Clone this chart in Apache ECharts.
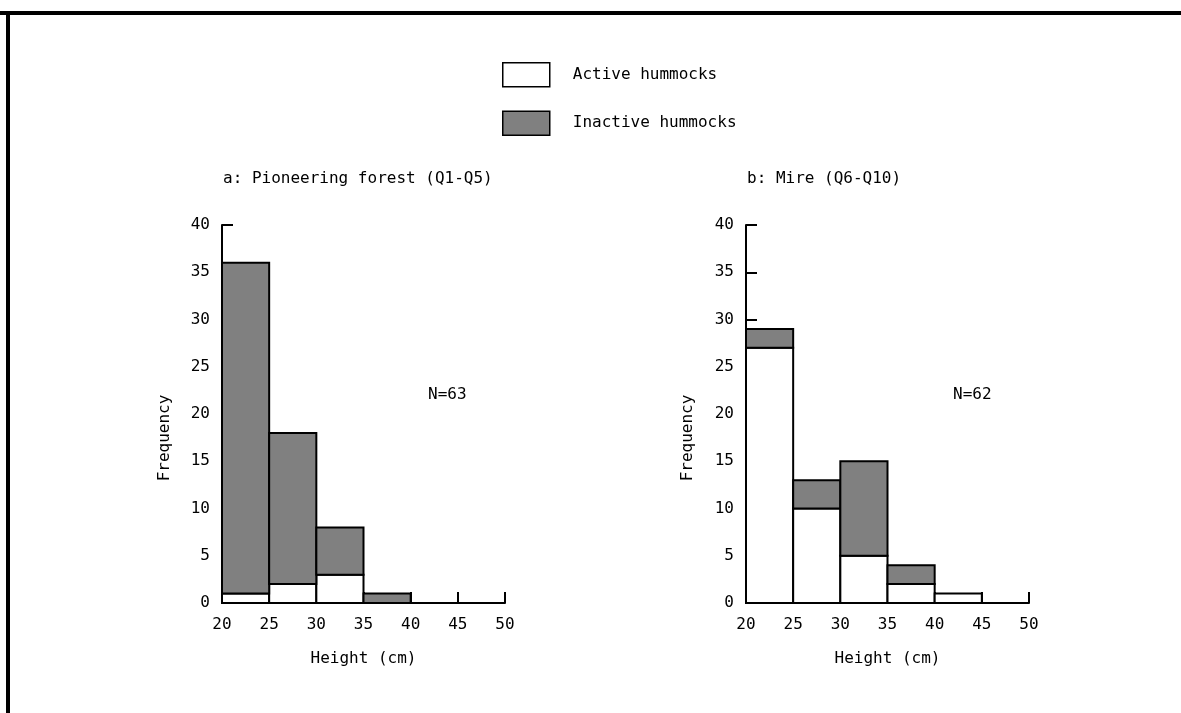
<!DOCTYPE html>
<html>
<head>
<meta charset="utf-8">
<script src="https://cdn.jsdelivr.net/npm/echarts@6/dist/echarts.min.js"></script>
<style>
    html, body { margin: 0; padding: 0; background: #fff; }
    #chart { width: 1181px; height: 713px; }
</style>
</head>
<body>
<div id="chart"></div>
<script>
// bin starts (cm), each bin is 5 cm wide
const binStarts = [20, 25, 30, 35, 40, 45];
const binWidth = 5;
// a: Pioneering forest (Q1-Q5)
const activeA = [1, 2, 3, 0, 0, 0];
const inactiveA = [35, 16, 5, 1, 0, 0];
// b: Mire (Q6-Q10)
const activeB = [27, 10, 5, 2, 1, 0];
const inactiveB = [2, 3, 10, 2, 0, 0];
const xTicks = [20, 50, 5];   // min, max, interval
const yTicks = [0, 40, 5];

const FONT = '"DejaVu Sans Mono", "Liberation Mono", monospace';
const GRAY = '#808080';

// build [x0, x1, y0, y1] boxes for a stacked histogram
function boxes(values, base) {
    const out = [];
    binStarts.forEach((x0, i) => {
        const b = base ? base[i] : 0;
        if (values[i] > 0) {
            out.push([x0, x0 + binWidth, b, b + values[i]]);
        }
    });
    return out;
}

function renderBox(fill) {
    return function (params, api) {
        const p0 = api.coord([api.value(0), api.value(2)]);
        const p1 = api.coord([api.value(1), api.value(3)]);
        return {
            type: 'rect',
            shape: { x: p0[0], y: p1[1], width: p1[0] - p0[0], height: p0[1] - p1[1] },
            style: { fill: fill, stroke: '#000', lineWidth: 2 }
        };
    };
}

function xAxisOf(idx) {
    return {
        type: 'value',
        gridIndex: idx,
        min: xTicks[0],
        max: xTicks[1],
        interval: xTicks[2],
        name: 'Height (cm)',
        nameLocation: 'middle',
        nameGap: 48,
        nameTextStyle: { color: '#000', fontSize: 16, fontFamily: FONT },
        splitLine: { show: false },
        axisLine: { lineStyle: { color: '#000', width: 2 } },
        axisTick: { inside: true, length: 11, lineStyle: { color: '#000', width: 2 } },
        axisLabel: { color: '#000', fontSize: 16, fontFamily: FONT, margin: 14 }
    };
}

function yAxisOf(idx) {
    return {
        type: 'value',
        gridIndex: idx,
        min: yTicks[0],
        max: yTicks[1],
        interval: yTicks[2],
        splitLine: { show: false },
        axisLine: { show: true, lineStyle: { color: '#000', width: 2 } },
        axisTick: { show: true, inside: true, length: 11, lineStyle: { color: '#000', width: 2 } },
        axisLabel: { color: '#000', fontSize: 16, fontFamily: FONT, margin: 12 }
    };
}

function seriesOf(idx, active, inactive) {
    return [
        {
            name: 'Active hummocks',
            type: 'custom',
            xAxisIndex: idx,
            yAxisIndex: idx,
            itemStyle: { color: '#fff', borderColor: '#000', borderWidth: 1.5 },
            encode: { x: [0, 1], y: [2, 3] },
            renderItem: renderBox('#fff'),
            data: boxes(active)
        },
        {
            name: 'Inactive hummocks',
            type: 'custom',
            xAxisIndex: idx,
            yAxisIndex: idx,
            itemStyle: { color: GRAY, borderColor: '#000', borderWidth: 1.5 },
            encode: { x: [0, 1], y: [2, 3] },
            renderItem: renderBox(GRAY),
            data: boxes(inactive, active)
        }
    ];
}

function label(text, x, y, rotate) {
    return {
        type: 'text',
        x: x,
        y: y,
        rotation: rotate ? Math.PI / 2 : 0,
        style: {
            text: text,
            fill: '#000',
            font: '16px ' + FONT,
            align: rotate ? 'center' : 'left',
            verticalAlign: 'middle'
        }
    };
}

const myChart = echarts.init(document.getElementById('chart'));
const option = {
    backgroundColor: '#fff',
    animation: false,
    title: [
        { text: 'a: Pioneering forest (Q1-Q5)', left: 223, top: 171, padding: 0,
          textStyle: { color: '#000', fontSize: 16, fontWeight: 'normal', fontFamily: FONT } },
        { text: 'b: Mire (Q6-Q10)', left: 747, top: 171, padding: 0,
          textStyle: { color: '#000', fontSize: 16, fontWeight: 'normal', fontFamily: FONT } }
    ],
    legend: {
        orient: 'vertical',
        left: 502,
        top: 62,
        padding: 0,
        itemWidth: 47,
        itemHeight: 24,
        itemGap: 23,
        icon: 'rect',
        selectedMode: false,
        textStyle: { color: '#000', fontSize: 16, fontFamily: FONT, padding: [0, 0, 0, 18] },
        data: [
            { name: 'Active hummocks', itemStyle: { color: '#fff', borderColor: '#000', borderWidth: 1.5 } },
            { name: 'Inactive hummocks', itemStyle: { color: GRAY, borderColor: '#000', borderWidth: 1.5 } }
        ]
    },
    grid: [
        { left: 222, top: 225, width: 283, height: 378 },
        { left: 746, top: 225, width: 283, height: 378 }
    ],
    xAxis: [xAxisOf(0), xAxisOf(1)],
    yAxis: [yAxisOf(0), yAxisOf(1)],
    series: seriesOf(0, activeA, inactiveA).concat(seriesOf(1, activeB, inactiveB)),
    graphic: [
        // frame lines (top and left)
        { type: 'line', shape: { x1: 0, y1: 13, x2: 1181, y2: 13 }, style: { stroke: '#000', lineWidth: 4 } },
        { type: 'line', shape: { x1: 8, y1: 11, x2: 8, y2: 713 }, style: { stroke: '#000', lineWidth: 4 } },
        label('Frequency', 165, 438, true),
        label('Frequency', 688, 438, true),
        label('N=63', 428, 395, false),
        label('N=62', 953, 395, false)
    ]
};
myChart.setOption(option);
</script>
</body>
</html>
